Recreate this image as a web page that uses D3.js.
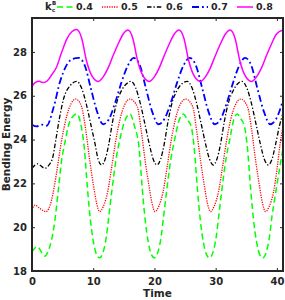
<!DOCTYPE html>
<html>
<head>
<meta charset="utf-8">
<script src="https://cdn.jsdelivr.net/npm/d3@7"></script>
<style>
  html, body { margin: 0; padding: 0; background: #fff; }
  svg { display: block; }
</style>
</head>
<body>
<svg id="chart" width="285" height="300"></svg>
<script>
// --- Data ---
const kcLabels = ["0.4", "0.5", "0.6", "0.7", "0.8"];
const xTicks = [0, 10, 20, 30, 40];
const yTicks = [18, 20, 22, 24, 26, 28];

// [time, bending energy]
const k04 = [[0,18.88],[0.85,19.11],[2.1,18.68],[2.7,18.95],[3.2,19.42],[3.75,20.33],[4.3,21.7],[4.85,23.07],[5.4,23.9],[6.2,24.85],[7.3,25.17],
  [8.05,24.6],[8.55,23.6],[9.05,21.8],[9.55,20.3],[10.05,19.3],[10.55,18.75],[11.05,18.6],[11.6,18.85],[12.15,19.57],[12.55,20.5],[13.0,21.56],[13.8,23.22],[14.35,24.0],[15.15,24.85],[16.0,25.17],
  [16.75,24.6],[17.5,23.6],[18.0,21.8],[18.5,20.3],[19.0,19.3],[19.5,18.75],[20.0,18.6],[20.55,18.85],[21.1,19.57],[21.5,20.5],[21.95,21.56],[22.75,23.22],[23.3,24.0],[24.0,24.85],[24.7,25.17],
  [25.4,24.9],[26.0,24.6],[26.5,23.6],[27.0,21.8],[27.5,20.3],[28.0,19.3],[28.5,18.75],[29.0,18.6],[29.55,18.85],[30.1,19.57],[30.5,20.5],[30.95,21.56],[31.75,23.22],[32.3,24.0],[32.9,24.85],[33.5,25.17],
  [34.1,24.95],[34.7,24.6],[35.2,23.6],[35.7,21.8],[36.2,20.3],[36.7,19.3],[37.2,18.75],[37.7,18.6],[38.25,18.85],[38.8,19.57],[39.2,20.5],[39.65,21.3],[40.45,22.7],[41.0,23.6]];

const k05 = [[0,20.79],[0.5,21.01],[1.3,20.85],[2.3,20.71],[3.2,21.24],[4.0,22.46],[4.8,23.9],[5.7,25.1],[6.4,25.65],[7.15,25.85],
  [8.1,25.5],[8.75,24.5],[9.45,23.0],[10.05,21.9],[10.55,21.1],[11.05,20.71],[11.65,20.95],[12.35,21.6],[13.05,22.8],[13.65,23.9],[14.35,24.9],[15.15,25.6],[16.0,25.85],
  [17.2,25.5],[17.8,24.5],[18.5,23.0],[19.1,21.9],[19.6,21.1],[20.1,20.71],[20.7,20.95],[21.4,21.6],[22.1,22.8],[22.7,23.9],[23.4,24.9],[24.2,25.6],[25.1,25.85],
  [26.25,25.5],[26.85,24.5],[27.55,23.0],[28.15,21.9],[28.65,21.1],[29.15,20.71],[29.75,20.95],[30.45,21.6],[31.15,22.8],[31.75,23.9],[32.45,24.9],[33.25,25.6],[34.1,25.85],
  [35.2,25.5],[35.85,24.5],[36.55,23.0],[37.15,21.9],[37.65,21.1],[38.15,20.71],[38.75,20.95],[39.45,21.6],[40.0,22.6],[40.5,23.75],[41.0,24.6]];

const k06 = [[0,22.69],[0.9,22.89],[2.1,22.69],[2.8,22.85],[3.4,23.2],[3.9,24.0],[4.5,25.0],[5.2,25.9],[6.2,26.45],[7.3,26.66],
  [8.1,26.35],[8.8,25.7],[9.6,24.7],[10.3,23.8],[10.8,23.1],[11.35,22.84],[11.95,23.1],[12.55,23.8],[13.15,24.8],[13.85,25.7],[14.65,26.25],[15.45,26.55],[16.15,26.66],
  [16.95,26.35],[17.65,25.7],[18.45,24.7],[19.15,23.8],[19.8,23.1],[20.4,22.84],[21.0,23.1],[21.6,23.8],[22.2,24.8],[22.9,25.7],[23.7,26.25],[24.5,26.55],[25.35,26.66],
  [26.15,26.35],[26.85,25.7],[27.65,24.7],[28.35,23.8],[29.0,23.1],[29.6,22.84],[30.2,23.1],[30.8,23.8],[31.4,24.8],[32.1,25.7],[32.9,26.25],[33.6,26.55],[34.3,26.66],
  [35.1,26.35],[35.8,25.7],[36.6,24.7],[37.3,23.8],[37.95,23.1],[38.6,22.84],[39.2,23.1],[39.8,23.8],[40.4,24.6],[41.0,25.2]];

const k07 = [[0,24.68],[0.75,24.6],[1.6,24.68],[2.4,24.63],[3.5,25.44],[4.6,26.66],[5.7,27.42],[6.6,27.68],[7.6,27.73],
  [8.6,27.4],[9.6,26.35],[10.6,25.3],[11.6,24.7],[12.6,24.95],[13.6,25.7],[14.6,26.6],[15.6,27.35],[16.6,27.73],
  [17.6,27.4],[18.6,26.35],[19.6,25.3],[20.65,24.7],[21.65,24.95],[22.7,25.7],[23.7,26.6],[24.7,27.35],[25.75,27.73],
  [26.75,27.4],[27.8,26.35],[28.8,25.3],[29.85,24.7],[30.85,24.95],[31.85,25.7],[32.85,26.6],[33.8,27.35],[34.8,27.73],
  [35.8,27.4],[36.8,26.35],[37.85,25.3],[38.9,24.7],[39.9,24.95],[41.0,25.8]];

const k08 = [[0,26.43],[0.5,26.6],[1.2,26.66],[1.7,26.6],[2.4,26.66],[3.2,26.95],[4.0,27.3],[4.8,27.95],[5.7,28.6],[6.5,28.92],[7.3,29.02],
  [8.1,28.64],[8.9,27.6],[9.7,26.95],[10.8,26.65],[11.6,26.85],[12.4,27.25],[13.2,27.8],[14.05,28.35],[14.9,28.82],[15.65,29.0],
  [16.45,28.64],[17.25,27.6],[18.05,26.95],[19.15,26.65],[19.95,26.85],[20.75,27.25],[21.55,27.8],[22.4,28.35],[23.25,28.82],[24.0,29.0],
  [24.8,28.64],[25.6,27.6],[26.4,26.95],[27.5,26.65],[28.3,26.85],[29.1,27.25],[29.9,27.8],[30.75,28.35],[31.6,28.82],[32.35,29.0],
  [33.15,28.64],[33.95,27.6],[34.75,26.95],[35.85,26.65],[36.65,26.85],[37.45,27.25],[38.25,27.8],[39.1,28.35],[39.95,28.82],[41.0,29.0]];

const series = [k04, k05, k06, k07, k08];

// line look for each kc (matlab-ish: --, :, -., -., -)
const styles = [
  { color: "#00ff00", width: 1.5, dash: "6,3.5" },
  { color: "#ff0000", width: 1.3, dash: "1.2,1.2" },
  { color: "#000000", width: 1.3, dash: "4.5,2,1.3,2" },
  { color: "#0000ff", width: 1.8, dash: "7,3,1.8,3" },
  { color: "#ff00ff", width: 1.5, dash: null }
];

// --- Setup ---
const svg = d3.select("#chart");
const font = "'DejaVu Sans', sans-serif";
const axisColor = "#262626";

const x = d3.scaleLinear().domain([0, 41]).range([32, 283]);
const y = d3.scaleLinear().domain([18, 29.55]).range([271, 18]);

svg.append("defs").append("clipPath").attr("id", "plot-clip")
  .append("rect")
  .attr("x", x(0)).attr("y", y(29.55))
  .attr("width", x(41) - x(0)).attr("height", y(18) - y(29.55));

// --- Lines ---
const line = d3.line()
  .x((d) => x(d[0]))
  .y((d) => y(d[1]))
  .curve(d3.curveMonotoneX);

svg.append("g")
  .attr("clip-path", "url(#plot-clip)")
  .selectAll("path")
  .data(series)
  .join("path")
  .attr("d", line)
  .attr("fill", "none")
  .attr("stroke", (d, i) => styles[i].color)
  .attr("stroke-width", (d, i) => styles[i].width)
  .attr("stroke-dasharray", (d, i) => styles[i].dash);

// --- Axes (ticks point inward, box all round) ---
function styleAxis(g) {
  g.select(".domain").remove();
  g.selectAll(".tick line").attr("stroke", axisColor).attr("stroke-width", 1);
  g.selectAll(".tick text")
    .attr("fill", axisColor)
    .attr("font-family", font)
    .attr("font-weight", "bold")
    .attr("font-size", 10);
}

svg.append("g")
  .attr("transform", `translate(0,${y(18)})`)
  .call(d3.axisBottom(x).tickValues(xTicks).tickSize(-3).tickPadding(7))
  .call(styleAxis);

svg.append("g")
  .attr("transform", `translate(0,${y(29.55)})`)
  .call(d3.axisTop(x).tickValues(xTicks).tickSize(-3).tickFormat(""))
  .call(styleAxis);

svg.append("g")
  .attr("transform", `translate(${x(0)},0)`)
  .call(d3.axisLeft(y).tickValues(yTicks).tickSize(-3).tickPadding(5))
  .call(styleAxis);

svg.append("g")
  .attr("transform", `translate(${x(41)},0)`)
  .call(d3.axisRight(y).tickValues(yTicks).tickSize(-3).tickFormat(""))
  .call(styleAxis);

svg.append("rect")
  .attr("x", x(0)).attr("y", y(29.55))
  .attr("width", x(41) - x(0)).attr("height", y(18) - y(29.55))
  .attr("fill", "none")
  .attr("stroke", axisColor)
  .attr("stroke-width", 2);

// --- Axis titles ---
svg.append("text")
  .attr("x", (x(0) + x(41)) / 2)
  .attr("y", 297)
  .attr("text-anchor", "middle")
  .attr("font-family", font).attr("font-weight", "bold").attr("font-size", 10.5)
  .attr("fill", axisColor)
  .text("Time");

svg.append("text")
  .attr("transform", `translate(10,${(y(18) + y(29.55)) / 2}) rotate(-90)`)
  .attr("text-anchor", "middle")
  .attr("font-family", font).attr("font-weight", "bold").attr("font-size", 10.5)
  .attr("fill", axisColor)
  .text("Bending Energy");

// --- Legend (horizontal, no box) ---
const legend = svg.append("g").attr("font-family", font).attr("font-weight", "bold");

const kLabel = legend.append("text").attr("fill", axisColor);
kLabel.append("tspan").attr("x", 45).attr("y", 10).attr("font-size", 10).text("k");
kLabel.append("tspan").attr("x", 52).attr("y", 5).attr("font-size", 5.5).text("B");
kLabel.append("tspan").attr("x", 52).attr("y", 12).attr("font-size", 5.5).text("c");

const item = legend.selectAll("g.item")
  .data(kcLabels)
  .join("g")
  .attr("class", "item")
  .attr("transform", (d, i) => `translate(${57 + i * 45},7)`);

item.append("line")
  .attr("x1", 0).attr("x2", 16)
  .attr("stroke", (d, i) => styles[i].color)
  .attr("stroke-width", (d, i) => styles[i].width)
  .attr("stroke-dasharray", (d, i) => styles[i].dash);

item.append("text")
  .attr("x", 19).attr("dy", "0.35em")
  .attr("font-size", 9.5)
  .attr("fill", axisColor)
  .text((d) => d);
</script>
</body>
</html>
